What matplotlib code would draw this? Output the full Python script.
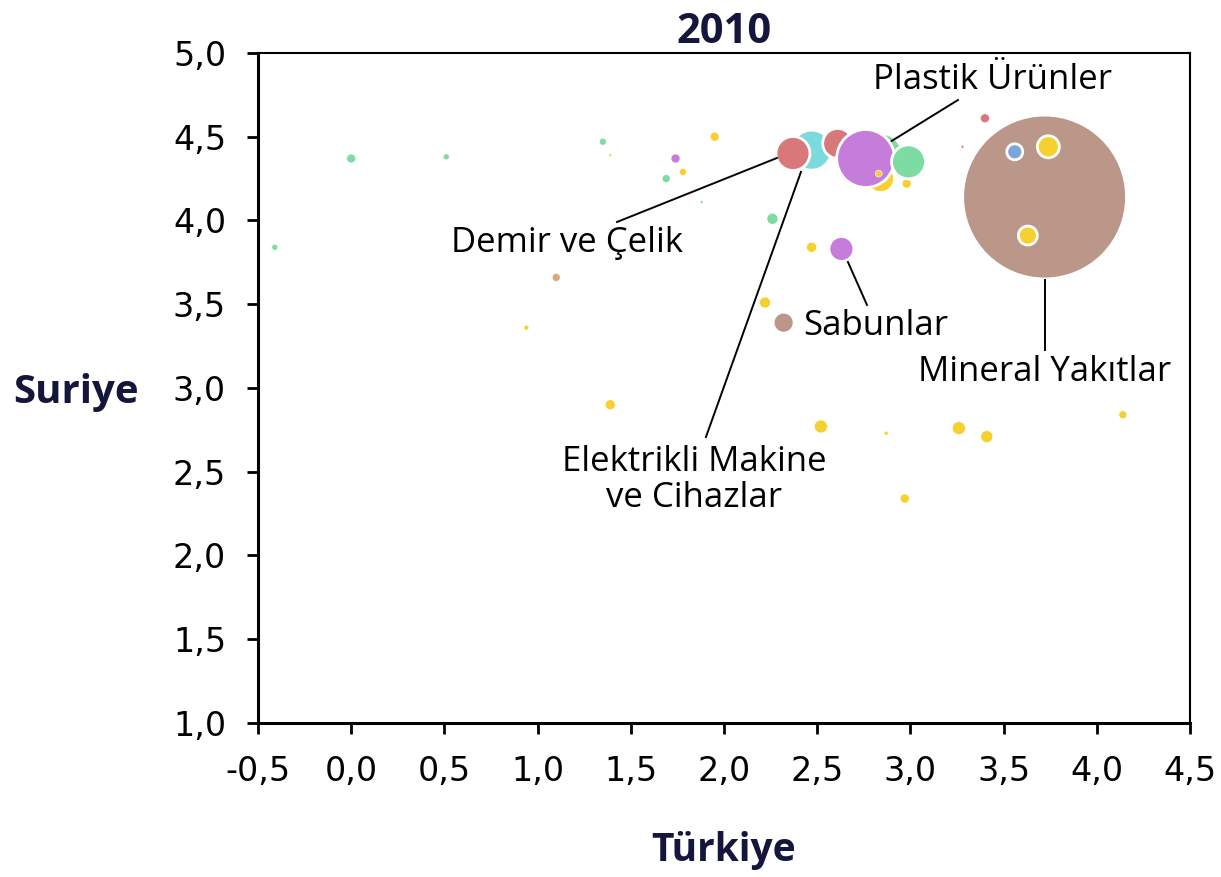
import matplotlib
matplotlib.use("Agg")
import matplotlib.pyplot as plt

plt.rcParams['font.family'] = 'DejaVu Sans'

# Sektör renk grupları
renkler = {
    'yesil': '#7ddca2',
    'sari': '#f6d02f',
    'kirmizi': '#d9787a',
    'camgobegi': '#7bdadc',
    'mor': '#c57cda',
    'mavi': '#7aa6dc',
    'kahve': '#bb978a',
    'turuncu': '#d8a97c',
}

# Veriler (çizim sırasına göre)
turkiye = [-0.41, 0.00, 0.51, 1.35, 1.69, 1.88, 2.26, 1.95, 1.39, 1.78,
           2.47, 2.22, 0.94, 1.39, 2.52, 2.87, 3.26, 3.41, 4.14, 2.97,
           1.74, 1.10, 3.40, 3.28, 2.98,
           2.47, 2.61, 2.84, 2.83, 2.84, 2.76, 2.83, 2.37, 2.99,
           2.63, 2.32,
           3.72, 3.56, 3.74, 3.63]
suriye = [3.84, 4.37, 4.38, 4.47, 4.25, 4.11, 4.01, 4.50, 4.39, 4.29,
          3.84, 3.51, 3.36, 2.90, 2.77, 2.73, 2.76, 2.71, 2.84, 2.34,
          4.37, 3.66, 4.61, 4.44, 4.22,
          4.42, 4.46, 4.39, 4.47, 4.25, 4.37, 4.28, 4.40, 4.35,
          3.83, 3.39,
          4.14, 4.41, 4.44, 3.91]
hacim = [9, 20, 9, 12, 16, 2, 30, 20, 2, 12,
         25, 30, 6, 25, 42, 4, 42, 36, 16, 20,
         20, 16, 20, 2, 20,
         400, 225, 484, 64, 196, 841, 12, 289, 289,
         156, 110,
         6724, 64, 121, 90]
grup = ['yesil', 'yesil', 'yesil', 'yesil', 'yesil', 'yesil', 'yesil', 'sari', 'sari', 'sari',
        'sari', 'sari', 'sari', 'sari', 'sari', 'sari', 'sari', 'sari', 'sari', 'sari',
        'mor', 'turuncu', 'kirmizi', 'kirmizi', 'sari',
        'camgobegi', 'kirmizi', 'yesil', 'turuncu', 'sari', 'mor', 'sari', 'kirmizi', 'yesil',
        'mor', 'kahve',
        'kahve', 'mavi', 'sari', 'sari']

x_ticks = [-0.5, 0.0, 0.5, 1.0, 1.5, 2.0, 2.5, 3.0, 3.5, 4.0, 4.5]
y_ticks = [1.0, 1.5, 2.0, 2.5, 3.0, 3.5, 4.0, 4.5, 5.0]

lacivert = '#14163b'
etiket_font = 'Open Sans'

fig = plt.figure(figsize=(12.21, 8.77), dpi=100)
ax = fig.add_axes([0.2113, 0.1756, 0.7633, 0.764])

boyut = [h * 2.07 for h in hacim]
kenar = [2.0 if h > 50 else 0.4 for h in hacim]
ax.scatter(turkiye, suriye, s=boyut, c=[renkler[g] for g in grup],
           edgecolors='white', linewidths=kenar, zorder=3)

ax.set_xlim(-0.5, 4.5)
ax.set_ylim(1.0, 5.0)
ax.set_xticks(x_ticks)
ax.set_yticks(y_ticks)
ax.set_xticklabels([f"{t:.1f}".replace('.', ',') for t in x_ticks],
                   fontfamily='DejaVu Sans')
ax.set_yticklabels([f"{t:.1f}".replace('.', ',') for t in y_ticks],
                   fontfamily='DejaVu Sans')
ax.tick_params(axis='both', direction='out', length=8, width=2, pad=15,
               labelsize=24)
for s in ['left', 'bottom']:
    ax.spines[s].set_linewidth(2.2)
for s in ['top', 'right']:
    ax.spines[s].set_linewidth(1.5)

ax.set_title('2010', fontsize=30, fontweight='bold', color=lacivert,
             family=etiket_font, pad=3)
ax.set_xlabel('Türkiye', fontsize=28, fontweight='bold', color=lacivert,
              family=etiket_font, va='center')
ax.xaxis.set_label_coords(0.5, -0.19)
ax.set_ylabel('Suriye', fontsize=29, fontweight='bold', color=lacivert,
              family=etiket_font, rotation=0, ha='center', va='center')
ax.yaxis.set_label_coords(-0.195, 0.494)

# Etiketler ve bağlantı çizgileri
cizgi = dict(color='black', lw=1.4, zorder=4)
ax.plot([2.90, 3.255], [4.475, 4.719], **cizgi)
ax.text(3.44, 4.84, 'Plastik Ürünler', fontsize=25, family=etiket_font,
        ha='center', va='center')
ax.plot([2.284, 1.426], [4.373, 3.991], **cizgi)
ax.text(1.16, 3.866, 'Demir ve Çelik', fontsize=25, family=etiket_font,
        ha='center', va='center')
ax.plot([2.665, 2.767], [3.752, 3.496], **cizgi)
ax.text(2.424, 3.37, 'Sabunlar', fontsize=25, family=etiket_font,
        ha='left', va='center')
ax.plot([3.722, 3.722], [3.645, 3.227], **cizgi)
ax.text(3.722, 3.096, 'Mineral Yakıtlar', fontsize=25, family=etiket_font,
        ha='center', va='center')
ax.plot([2.413, 1.903], [4.29, 2.707], **cizgi)
ax.text(1.84, 2.45, 'Elektrikli Makine\nve Cihazlar', fontsize=25,
        family=etiket_font, ha='center', va='center', multialignment='center',
        linespacing=1.1)

fig.savefig('out.png', dpi=100)
